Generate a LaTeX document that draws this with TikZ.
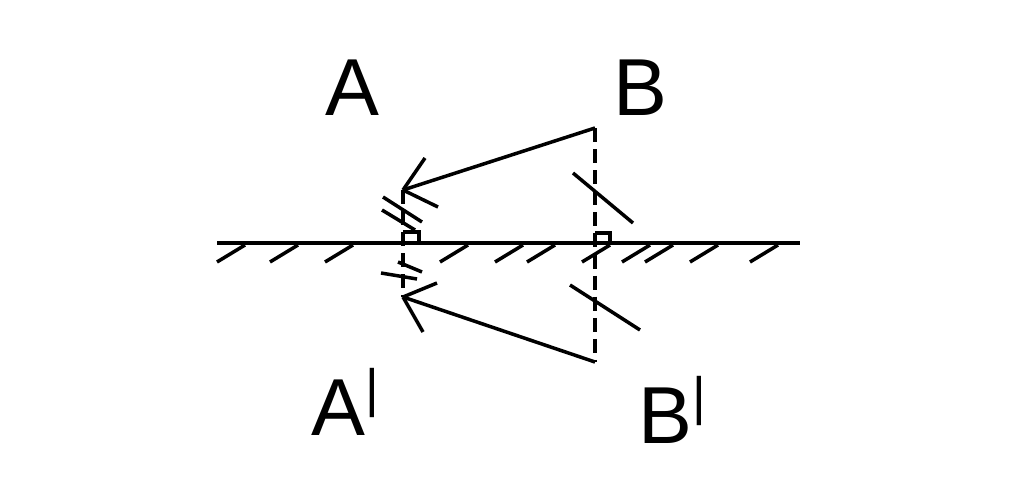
\documentclass[tikz,border=0pt]{standalone}
\usepackage{fontspec}
\setmainfont{Liberation Sans}
\newcommand{\vprime}{\raisebox{0.35em}{\fontsize{30}{30}\selectfont\textbar}}
\begin{document}
\begin{tikzpicture}[x=0.02cm,y=-0.02cm,line width=2pt,
  lbl/.style={inner sep=0pt,font=\fontsize{46}{46}\selectfont},
  tick/.style={line width=2pt},
  hatch/.style={line width=2pt}]
\useasboundingbox (0,0) rectangle (1024,497);
% mirror and hatching
\draw (217,243) -- (800,243);
\foreach \x in {217,270,325,440,495,527,582,622,645,690,750}
  \draw[hatch] (\x,262) -- (\x+28,245);
% labels
\node[lbl] (A) at (352,88) {A};
\node[lbl] (B) at (640,88) {B};
\node[lbl] (A1) at (345,402) {A\vprime};
\node[lbl] (B1) at (672,410) {B\vprime};
% points
\coordinate (b) at (595,128);
\coordinate (b1) at (595,362);
\coordinate (a) at (403,190);
\coordinate (a1) at (403,297);
\draw[dashed,dash pattern=on 8pt off 4pt] (b) -- (b1);
\draw[dashed,dash pattern=on 8pt off 4pt] (a) -- (a1);
% rays
\draw (b) -- (a);
\draw (a) -- (425,158); \draw (a) -- (438,207);
\draw (b1) -- (a1);
\draw (a1) -- (437,283); \draw (a1) -- (423,332);
% right angles
\draw[tick] (403,232) -- (419,232) -- (419,243);
\draw[tick] (595,233) -- (610,233) -- (610,243);
% equal marks
\draw[tick] (573,173) -- (633,223);
\draw[tick] (570,285) -- (640,330);
\draw[tick] (383,197) -- (422,222);
\draw[tick] (382,210) -- (415,230);
\draw[tick] (398,262) -- (422,272);
\draw[tick] (381,273) -- (417,279);
\end{tikzpicture}
\end{document}
